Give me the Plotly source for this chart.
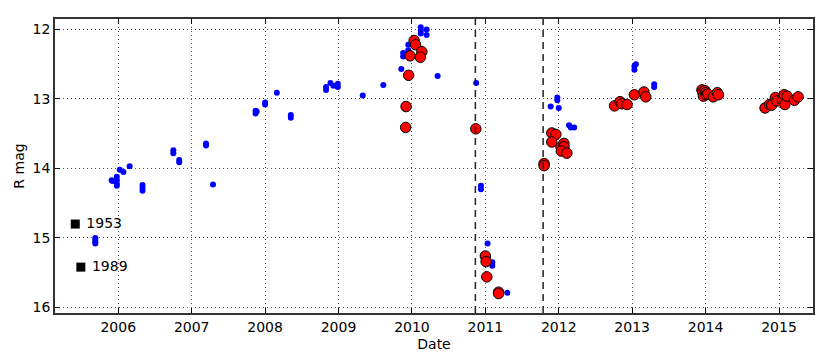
import plotly.graph_objects as go

# Blue photometry points (decimal year, R mag)
blue_x = [2005.687, 2005.687, 2005.687, 2005.687,
          2005.91, 2005.92, 2005.98, 2005.98, 2005.98, 2005.98,
          2006.02, 2006.07, 2006.155, 2006.33, 2006.33, 2006.33,
          2006.75, 2006.75, 2006.83, 2006.83, 2007.195, 2007.195, 2007.29,
          2007.87, 2007.87, 2007.885, 2008.0, 2008.0, 2008.16,
          2008.35, 2008.35, 2008.83, 2008.83, 2008.89, 2008.93, 2008.99, 2008.99,
          2009.33, 2009.61, 2009.855, 2009.88, 2009.88, 2009.95, 2009.95,
          2010.12, 2010.12, 2010.12, 2010.20, 2010.20, 2010.35,
          2010.875, 2010.94, 2010.94, 2011.03, 2011.095, 2011.095, 2011.30,
          2011.89, 2011.98, 2011.98, 2012.0, 2012.14, 2012.165, 2012.21,
          2013.03, 2013.03, 2013.05, 2013.30, 2013.30]
blue_y = [15.0, 15.03, 15.06, 15.08,
          14.17, 14.18, 14.12, 14.17, 14.22, 14.25,
          14.02, 14.05, 13.97, 14.24, 14.28, 14.32,
          13.74, 13.78, 13.88, 13.91, 13.64, 13.67, 14.23,
          13.17, 13.21, 13.18, 13.05, 13.08, 12.91,
          13.23, 13.27, 12.83, 12.87, 12.77, 12.81, 12.78, 12.83,
          12.95, 12.80, 12.57, 12.34, 12.39, 12.22, 12.30,
          11.97, 12.02, 12.06, 12.0, 12.08, 12.67,
          12.77, 14.25, 14.30, 15.08, 15.35, 15.40, 15.79,
          13.11, 12.98, 13.02, 13.13, 13.38, 13.41, 13.41,
          12.53, 12.58, 12.50, 12.79, 12.83]

# Red photometry points
red_x = [2010.03, 2010.05, 2009.975, 2010.135, 2010.115, 2009.955, 2009.92, 2009.915,
         2010.87, 2011.0, 2011.01, 2011.02, 2011.18, 2011.18,
         2011.80, 2011.80, 2011.905, 2011.96, 2011.905, 2012.03, 2012.07, 2012.07,
         2012.035, 2012.11,
         2012.76, 2012.835, 2012.86, 2012.93, 2013.03, 2013.16, 2013.185,
         2013.95, 2013.96, 2013.97, 2013.99, 2014.0, 2014.01, 2014.03, 2014.105,
         2014.16, 2014.175,
         2014.81, 2014.87, 2014.90, 2014.95, 2014.97, 2015.05, 2015.07, 2015.08,
         2015.11, 2015.21, 2015.26]
red_y = [12.16, 12.22, 12.38, 12.32, 12.40, 12.66, 13.11, 13.41,
         13.43, 15.26, 15.34, 15.56, 15.78, 15.80,
         13.93, 13.96, 13.49, 13.51, 13.62, 13.69, 13.64, 13.69,
         13.75, 13.78,
         13.10, 13.04, 13.07, 13.08, 12.94, 12.90, 12.97,
         12.87, 12.90, 12.96, 12.88, 12.91, 12.94, 12.93, 12.97,
         12.91, 12.94,
         13.13, 13.08, 13.09, 12.98, 13.03, 13.02, 12.94, 13.08,
         12.96, 13.02, 12.97]

# Archival plate measurements
archive_x = [2005.414, 2005.49]
archive_y = [14.80, 15.42]
archive_labels = ["1953", "1989"]

# Vertical event markers
events = [2010.864, 2011.787]

year_ticks = list(range(2006, 2016))
mag_ticks = [12, 13, 14, 15, 16]

fig = go.Figure()

fig.add_trace(go.Scatter(
    x=blue_x, y=blue_y, mode="markers",
    marker=dict(size=6, color="#0000ff", line=dict(width=0)),
    showlegend=False))

fig.add_trace(go.Scatter(
    x=red_x, y=red_y, mode="markers",
    marker=dict(size=10.5, color="#ff0000", line=dict(color="black", width=1)),
    showlegend=False))

fig.add_trace(go.Scatter(
    x=archive_x, y=archive_y, mode="markers+text",
    marker=dict(size=9, color="black", symbol="square"),
    text=[" " + t for t in archive_labels], textposition="middle right",
    textfont=dict(size=14, color="black"),
    showlegend=False))

for ev in events:
    fig.add_vline(x=ev, line=dict(color="#222222", width=1.5, dash="7px,5px"))

axis_common = dict(
    showline=True, linecolor="#333333", linewidth=1.5, mirror="ticks",
    ticks="inside", ticklen=5, tickcolor="black", automargin=False,
    showgrid=True, gridcolor="#555555", griddash="1px,3px", gridwidth=1,
    zeroline=False, tickfont=dict(size=14, color="black"),
)

fig.update_xaxes(axis_common, range=[2005.138, 2015.463], tickvals=year_ticks,
                 title=dict(text="Date", font=dict(size=14, color="black"), standoff=6))
fig.update_yaxes(axis_common, range=[16.08, 11.85], tickvals=mag_ticks,
                 title=dict(text="R mag", font=dict(size=14, color="black"), standoff=5))

# page body adds an 8px offset, so margins are shifted to compensate
fig.update_layout(
    width=830, height=360,
    margin=dict(l=47, r=25, t=11, b=55),
    plot_bgcolor="white", paper_bgcolor="white",
    font=dict(family="DejaVu Sans", color="black"),
)

fig.write_html("out.html")
